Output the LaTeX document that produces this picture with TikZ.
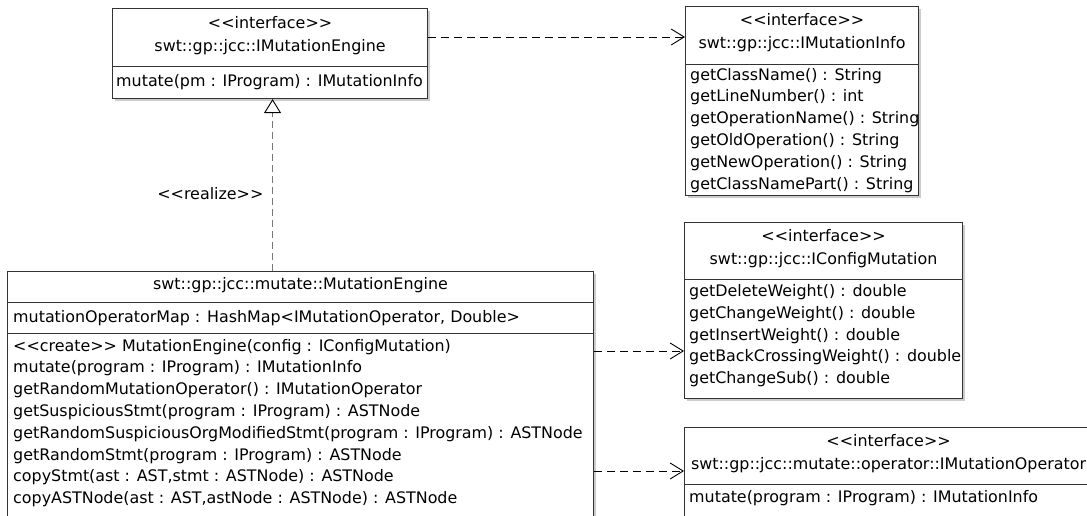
\documentclass[tikz,border=0pt]{standalone}
\usepackage{fontspec}
\setmainfont{DejaVu Sans}
\usetikzlibrary{
  positioning,
  arrows.meta,
  shadows,
}
\definecolor{border}{HTML}{333333}
\definecolor{realizeCol}{HTML}{777777}
\tikzset{
  classbox/.style={
    rectangle, draw=border, fill=white, line width=1.1pt, inner sep=0pt,
    anchor=north west,
    drop shadow={shadow xshift=2pt, shadow yshift=-2pt, fill=black, opacity=0.2},
  },
  member/.style={
    font=\fontsize{15.9pt}{18pt}\selectfont, inner sep=0pt,
    text height=9pt, text depth=5pt, anchor=west, yshift=-3pt,
  },
  stereo/.style={member, anchor=center},
  divider/.style={draw=border, line width=0.9pt},
  dep/.style={-{Straight Barb[length=13pt, width=16pt, line width=0.9pt]}, dash pattern=on 8pt off 5pt, line width=0.9pt},
  realize/.style={-{Triangle[open, length=14pt, width=17pt, fill=white, color=black, line width=0.9pt]}, realizeCol, dash pattern=on 7pt off 4pt, line width=1pt},
}

\begin{document}
\begin{tikzpicture}[x=1pt, y=-1pt]

  \path[use as bounding box, clip] (0,0) rectangle (1087,515);

  % Interfaces
  \node[classbox, minimum width=315pt, minimum height=90pt] (engI) at (112,8) {};
  \node[classbox, minimum width=233pt, minimum height=189pt] (infoI) at (685,6) {};
  \node[classbox, minimum width=278pt, minimum height=176pt] (cfgI) at (684,222) {};
  \node[classbox, minimum width=408pt, minimum height=120pt] (opI) at (684,427) {};

  % Implementation
  \node[classbox, minimum width=586pt, minimum height=270pt] (eng) at (7,271) {};

  % IMutationEngine
  \node[stereo] (engI-st) at ([yshift=-15pt]engI.north) {<{}<interface>{}>};
  \node[stereo] (engI-nm) at ([yshift=-38pt]engI.north) {swt::gp::jcc::IMutationEngine};
  \draw[divider] ([yshift=-58pt]engI.north west) -- ([yshift=-58pt]engI.north east);
  \node[member] (engI-m0) at ([xshift=4pt, yshift=-73pt]engI.north west) {mutate(pm : IProgram) : IMutationInfo};

  % IMutationInfo
  \node[stereo] (infoI-st) at ([yshift=-14pt]infoI.north) {<{}<interface>{}>};
  \node[stereo] (infoI-nm) at ([yshift=-37pt]infoI.north) {swt::gp::jcc::IMutationInfo};
  \draw[divider] ([yshift=-58pt]infoI.north west) -- ([yshift=-58pt]infoI.north east);
  \foreach \m [count=\i from 0] in {
    {getClassName() : String},
    {getLineNumber() : int},
    {getOperationName() : String},
    {getOldOperation() : String},
    {getNewOperation() : String},
    {getClassNamePart() : String}}
    \node[member] (infoI-m\i) at ([xshift=5pt, yshift={-69pt-\i*21.8pt}]infoI.north west) {\m};

  % IConfigMutation
  \node[stereo] (cfgI-st) at ([yshift=-14pt]cfgI.north) {<{}<interface>{}>};
  \node[stereo] (cfgI-nm) at ([yshift=-37pt]cfgI.north) {swt::gp::jcc::IConfigMutation};
  \draw[divider] ([yshift=-57pt]cfgI.north west) -- ([yshift=-57pt]cfgI.north east);
  \foreach \m [count=\i from 0] in {
    {getDeleteWeight() : double},
    {getChangeWeight() : double},
    {getInsertWeight() : double},
    {getBackCrossingWeight() : double},
    {getChangeSub() : double}}
    \node[member] (cfgI-m\i) at ([xshift=5pt, yshift={-69.5pt-\i*21.8pt}]cfgI.north west) {\m};

  % IMutationOperator
  \node[stereo] (opI-st) at ([yshift=-14pt]opI.north) {<{}<interface>{}>};
  \node[stereo] (opI-nm) at ([yshift=-37pt]opI.north) {swt::gp::jcc::mutate::operator::IMutationOperator};
  \draw[divider] ([yshift=-57pt]opI.north west) -- ([yshift=-57pt]opI.north east);
  \node[member] (opI-m0) at ([xshift=5pt, yshift=-70pt]opI.north west) {mutate(program : IProgram) : IMutationInfo};

  % MutationEngine
  \node[stereo] (eng-nm) at ([yshift=-13pt]eng.north) {swt::gp::jcc::mutate::MutationEngine};
  \draw[divider] ([yshift=-31pt]eng.north west) -- ([yshift=-31pt]eng.north east);
  \node[member] (eng-a0) at ([xshift=6pt, yshift=-46pt]eng.north west) {mutationOperatorMap : HashMap<IMutationOperator, Double>};
  \draw[divider] ([yshift=-62pt]eng.north west) -- ([yshift=-62pt]eng.north east);
  \foreach \m [count=\i from 0] in {
    {<{}<create>{}> MutationEngine(config : IConfigMutation)},
    {mutate(program : IProgram) : IMutationInfo},
    {getRandomMutationOperator() : IMutationOperator},
    {getSuspiciousStmt(program : IProgram) : ASTNode},
    {getRandomSuspiciousOrgModifiedStmt(program : IProgram) : ASTNode},
    {getRandomStmt(program : IProgram) : ASTNode},
    {copyStmt(ast : AST,stmt : ASTNode) : ASTNode},
    {copyASTNode(ast : AST,astNode : ASTNode) : ASTNode}}
    \node[member] (eng-m\i) at ([xshift=6pt, yshift={-75pt-\i*21.8pt}]eng.north west) {\m};

  % Relations
  \coordinate (rz) at ([xshift=2.5pt]engI.south);
  \draw[realize] (rz |- eng.north) -- (rz);
  \node[member, anchor=east] (rz-lbl) at ([xshift=-9pt, yshift=-95pt]rz) {<{}<realize>{}>};

  \draw[dep] ([yshift=-29pt]engI.north east) -- ([yshift=-31pt]infoI.north west);
  \draw[dep] ([yshift=-80pt]eng.north east) -- ([yshift=-129pt]cfgI.north west);
  \draw[dep] ([yshift=-200pt]eng.north east) -- ([yshift=-44pt]opI.north west);

\end{tikzpicture}
\end{document}
